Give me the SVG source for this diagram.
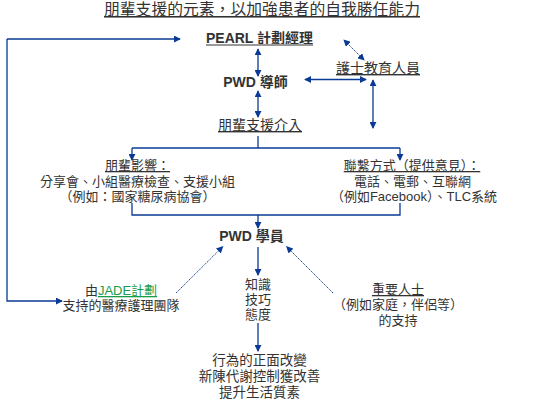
<svg xmlns="http://www.w3.org/2000/svg" width="540" height="405" viewBox="0 0 540 405">
<defs>
<marker id="ah" viewBox="0 0 8 8" refX="7" refY="4" markerWidth="7" markerHeight="7" markerUnits="userSpaceOnUse" orient="auto-start-reverse">
<path d="M0,0 L8,4 L0,8 z" fill="#0a3a94"/>
</marker>
<style>
text{font-family:"Liberation Sans","Noto Sans CJK TC",sans-serif;fill:#333;text-anchor:middle;font-size:13px}
.b{font-weight:bold;font-size:14px}
.u{text-decoration:underline}
.c path{fill:none;stroke:#0a3a94;stroke-width:1.3}
.c .thin{stroke-width:0.9;stroke-dasharray:1.5,0.8}
</style>
</defs>
<rect width="540" height="405" fill="#fff"/>
<g id="title"><text x="262" y="15" class="u" style="font-size:15.8px">朋輩支援的元素，以加強患者的自我勝任能力</text></g>
<g class="c" id="connectors">
<path d="M7,39 H180" marker-end="url(#ah)"/>
<path d="M7,39 V301 H62" marker-end="url(#ah)"/>
<path d="M258,49 V76" marker-start="url(#ah)" marker-end="url(#ah)"/>
<path d="M258,91 V117" marker-start="url(#ah)" marker-end="url(#ah)"/>
<path d="M305,79.5 H366" marker-start="url(#ah)" marker-end="url(#ah)"/>
<path class="thin" d="M344,40 L364,60" marker-start="url(#ah)" marker-end="url(#ah)"/>
<path d="M373,80 V128" marker-start="url(#ah)" marker-end="url(#ah)"/>
<path d="M258,136 V148"/>
<path d="M132,148 H400"/>
<path d="M132,148 V160" marker-end="url(#ah)"/>
<path d="M400,148 V160" marker-end="url(#ah)"/>
<path d="M132,203 V215 H400 V203"/>
<path d="M258,215 V228" marker-end="url(#ah)"/>
<path d="M258,247 V275" marker-end="url(#ah)"/>
<path class="thin" d="M176,293 L222.7,246.7" marker-end="url(#ah)"/>
<path class="thin" d="M333,293 L286.7,246.7" marker-end="url(#ah)"/>
<path d="M258,323 V351" marker-end="url(#ah)"/>
</g>
<g id="pearl"><text x="259.5" y="42.5" class="b">PEARL 計劃經理</text><rect x="206" y="44" width="107" height="2" fill="#999"/></g>
<g id="nurse"><text x="378" y="73" class="u" style="font-size:14px">護士教育人員</text></g>
<g id="mentor"><text x="255.5" y="87" class="b">PWD 導師</text></g>
<g id="intervention"><text x="260" y="130" class="u" style="font-size:14px">朋輩支援介入</text></g>
<g id="peer">
<text x="137.5" y="170" class="u">朋輩影響：</text>
<text x="137.5" y="186">分享會、小組醫療檢查、支援小組</text>
<text x="137.5" y="201">（例如：國家糖尿病協會）</text>
</g>
<g id="contact">
<text x="412" y="170" class="u">聯繫方式（提供意見）：</text>
<text x="412.5" y="186">電話、電郵、互聯網</text>
<text x="414" y="201">（例如Facebook）、TLC系統</text>
</g>
<g id="learner"><text x="251.5" y="241" class="b">PWD 學員</text></g>
<g id="team">
<text x="121" y="295">由<tspan fill="#1a9c4a" style="text-decoration:underline">JADE計劃</tspan></text>
<text x="121" y="310">支持的醫療護理團隊</text>
</g>
<g id="skills">
<text x="258" y="289">知識</text>
<text x="258" y="304">技巧</text>
<text x="258" y="319">態度</text>
</g>
<g id="significant">
<text x="398" y="294" class="u">重要人士</text>
<text x="398" y="309">（例如家庭，伴侶等）</text>
<text x="398" y="325">的支持</text>
</g>
<g id="outcome">
<text x="259.5" y="365" style="font-size:13.5px">行為的正面改變</text>
<text x="259.5" y="381" style="font-size:13.5px">新陳代謝控制獲改善</text>
<text x="259.5" y="397" style="font-size:13.5px">提升生活質素</text>
</g>
</svg>
